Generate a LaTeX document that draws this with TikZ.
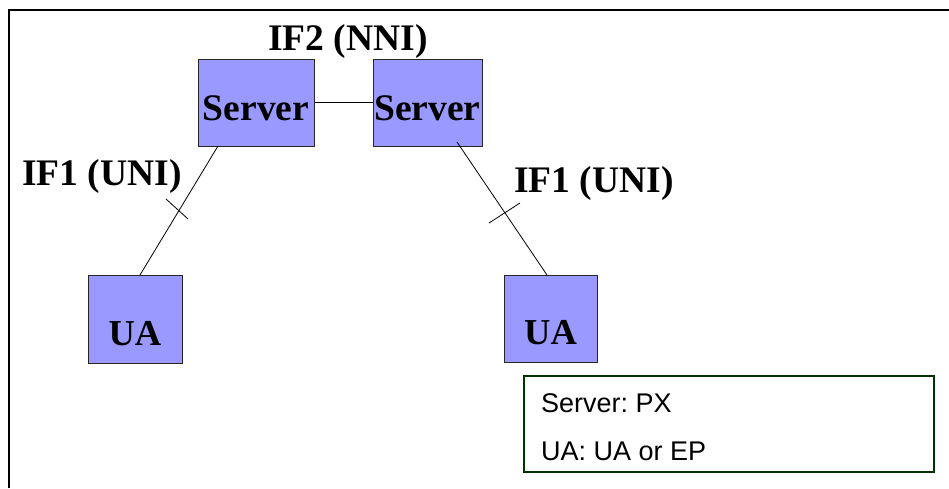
\documentclass[tikz,border=0pt]{standalone}
\usepackage{fontspec}
\setmainfont{Liberation Serif}
\setsansfont{Liberation Sans}
\frenchspacing
\definecolor{boxfill}{HTML}{9999FF}
\definecolor{legendgreen}{HTML}{003300}
\tikzset{
  netbox/.style={draw=black!85, line width=1pt, fill=boxfill, inner sep=0pt,
    text depth=0pt},
  serverbox/.style={netbox, font=\fontsize{37.5}{40}\selectfont\bfseries, text height=35pt, minimum height=87pt},
  uabox/.style={netbox, font=\fontsize{36.5}{40}\selectfont\bfseries, text height=52pt},
  iflabel/.style={anchor=base west, inner sep=0pt, font=\fontsize{37.5}{40}\selectfont\bfseries},
  link/.style={line width=0.8pt, black},
  legendtext/.style={anchor=base west, inner sep=0pt, font=\sffamily\fontsize{27}{30}\selectfont},
}
\begin{document}
\begin{tikzpicture}[x=1pt,y=-1pt]
\useasboundingbox (0,0) rectangle (949,488);
% outer frame (left and top edges)
\draw[line width=2pt] (9,488) -- (9,10) -- (949,10);
% servers
\node[serverbox, minimum width=116pt] (s1) at (256,102.5) {Server};
\node[serverbox, minimum width=109pt] (s2) at (427.5,102.5) {Server};
% user agents
\node[uabox, minimum width=94pt, minimum height=88pt] (ua1) at (135,319) {UA};
\node[uabox, minimum width=93pt, minimum height=87pt] (ua2) at (550.5,318.5) {UA};
% labels
\node[iflabel] (if2) at (268,50) {IF2 (NNI)};
\node[iflabel] (if1l) at (22,185) {IF1 (UNI)};
\node[iflabel] (if1r) at (514,192) {IF1 (UNI)};
% connectors
\draw[link] (s1.east) -- (s2.west);
\coordinate (l1a) at (218,146);
\coordinate (l1b) at (140,275);
\coordinate (l2a) at (457,142);
\coordinate (l2b) at (547,275);
\draw[link] (l1a) -- (l1b);
\draw[link] (l2a) -- (l2b);
% interface ticks
\coordinate (t1a) at (166,199);
\coordinate (t1b) at (188,219);
\coordinate (t2a) at (489,223);
\coordinate (t2b) at (520,203);
\draw[link] (t1a) -- (t1b);
\draw[link] (t2a) -- (t2b);
% legend
\node[draw=legendgreen, line width=2pt, minimum width=410pt, minimum height=96pt, inner sep=0pt] (legend) at (729,424) {};
\node[legendtext] (lg1) at (541,412) {Server: PX};
\node[legendtext] (lg2) at (541,460) {UA: UA or EP};
\end{tikzpicture}
\end{document}
